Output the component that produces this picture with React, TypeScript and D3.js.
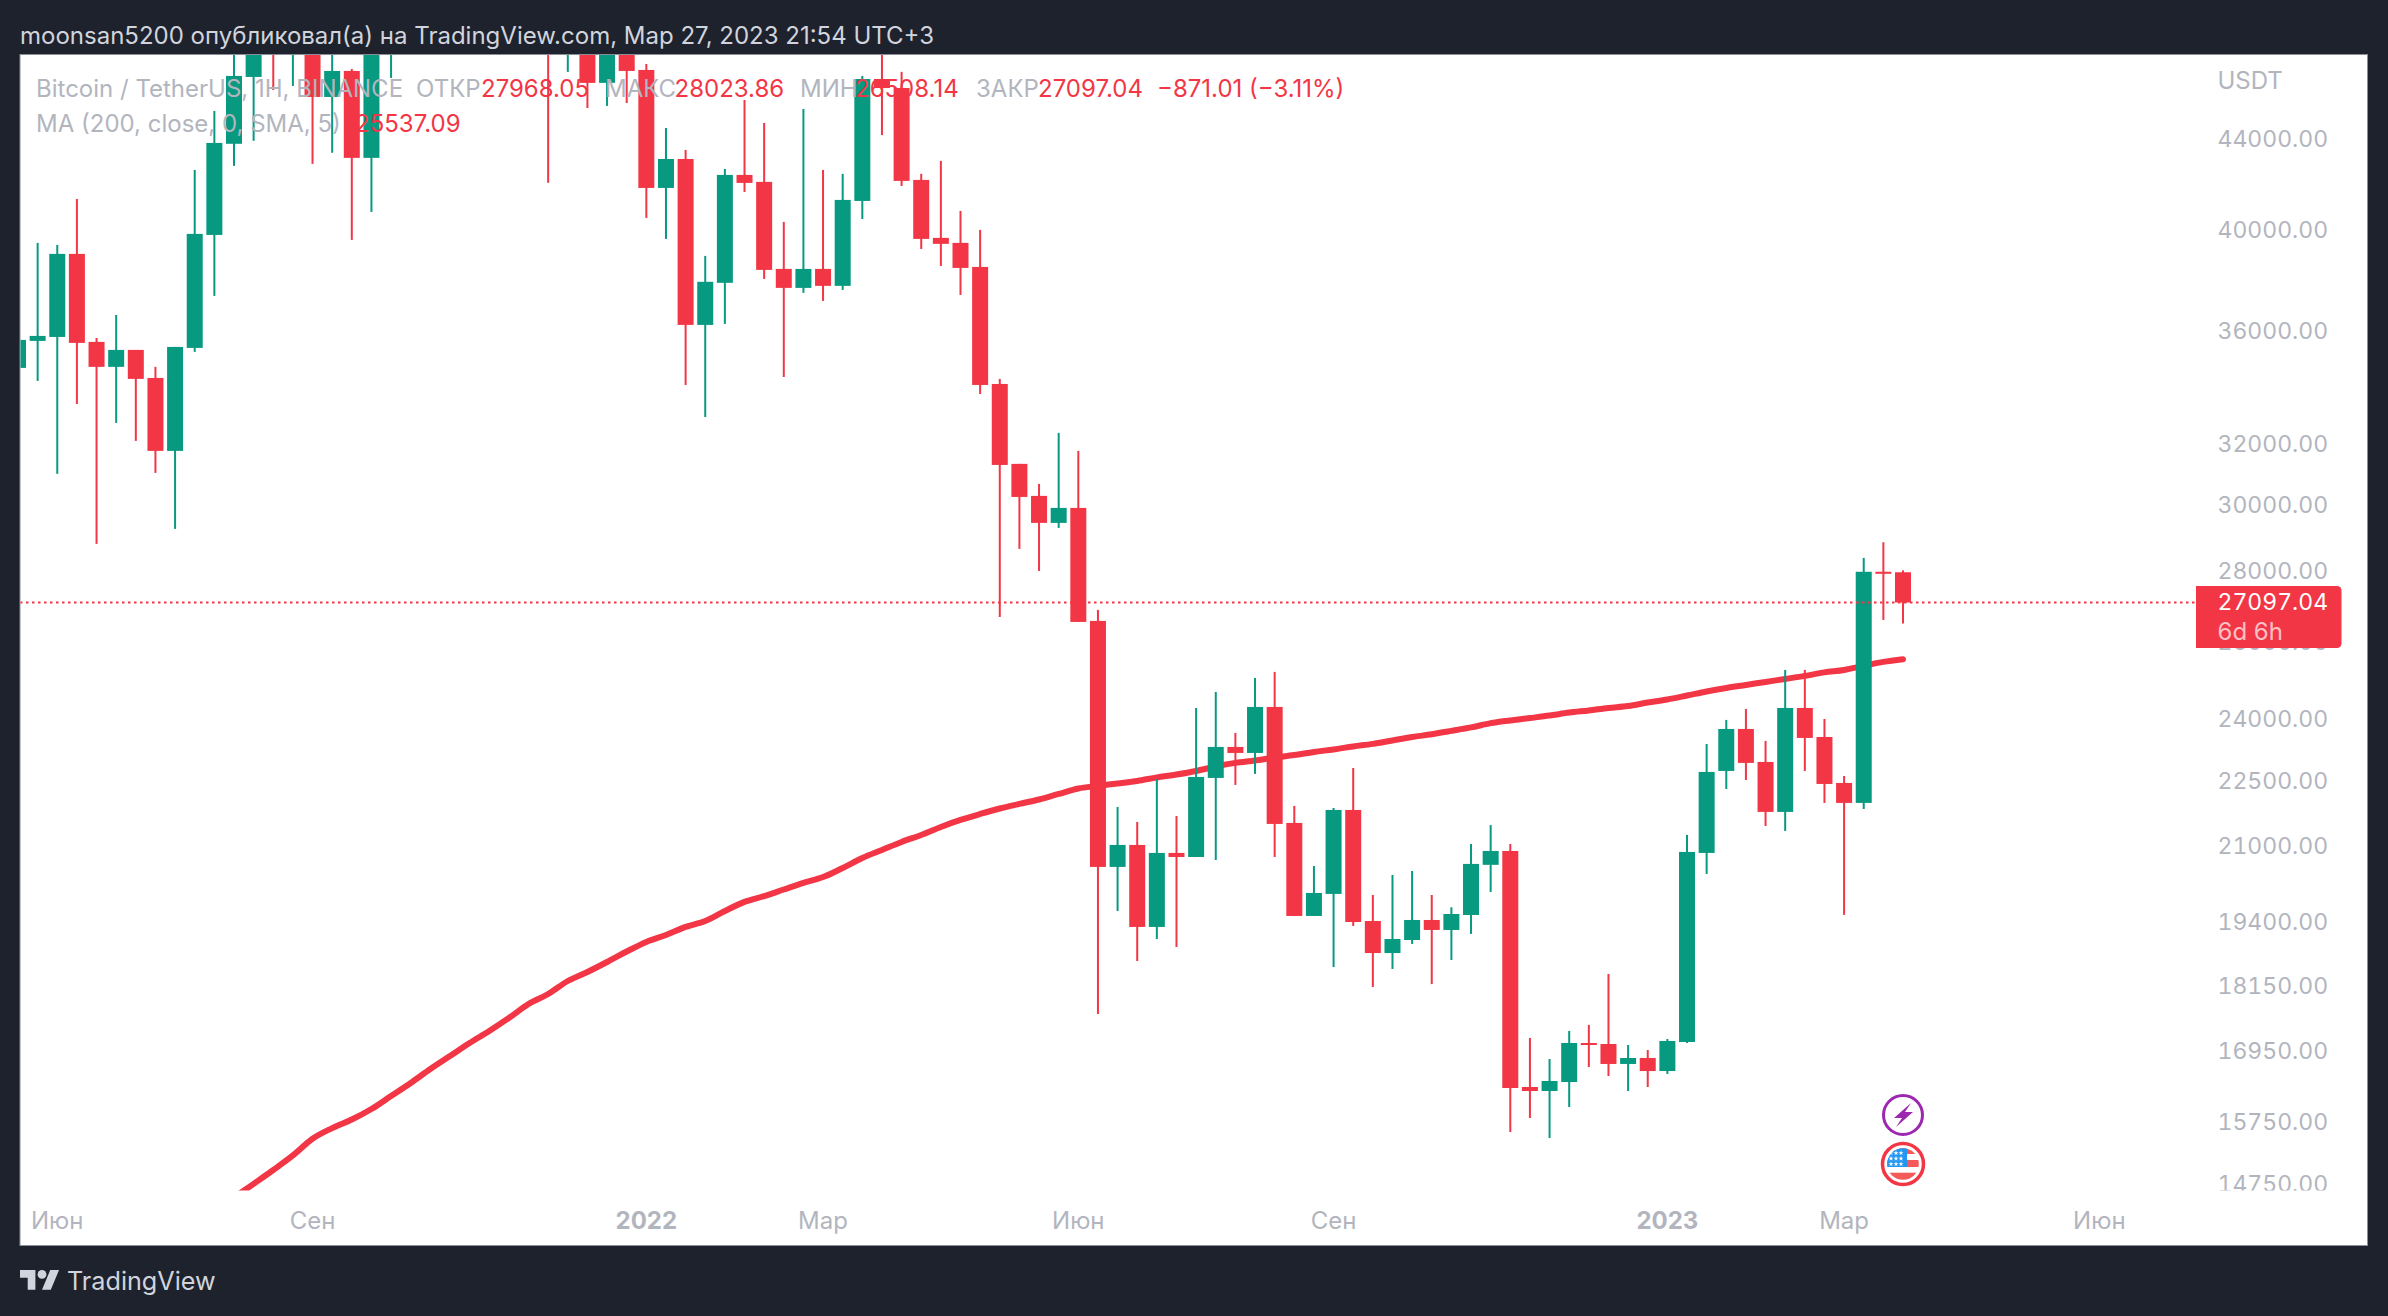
import React, { useEffect, useRef } from 'react'
import * as d3 from 'd3'

const width = 2388
const height = 1316

const firstWeek = new Date(Date.UTC(2021, 4, 24))
const lastWeek = new Date(Date.UTC(2023, 2, 27))

// weekly candles, week of 2021-05-24 to week of 2023-03-27
const opens = [34632, 35624, 35772, 39018, 35587, 34670, 35290, 34270, 31753, 35364, 39800, 43780, 46950, 49300, 48900, 51700, 45978, 47246, 43140, 48150, 54900, 60800, 61300, 61500, 63300, 65500, 58600, 57300, 49400, 50100, 46660, 50800, 47295, 41805, 43090, 36225, 37855, 42378, 42070, 38410, 37655, 38410, 37735, 41240, 46850, 46410, 42157, 39677, 39470, 38490, 34055, 31325, 30293, 29450, 29915, 26580, 20550, 21028, 19300, 20853, 20765, 22555, 23298, 23152, 24293, 21518, 19523, 19978, 21812, 19420, 18780, 19038, 19441, 19239, 19543, 20595, 20896, 16325, 16257, 16410, 17094, 17076, 16723, 16828, 16600, 17112, 20853, 22720, 23740, 22935, 21767, 24267, 23542, 22436, 21973, 27982, 27968.05]
const highs = [39500, 39470, 39387, 41325, 35735, 36605, 35290, 34670, 35400, 42600, 45310, 48150, 49800, 50500, 52900, 52950, 48800, 47345, 49200, 56000, 62900, 67000, 63700, 64300, 69000, 66300, 59500, 59000, 51000, 50700, 51800, 52100, 47590, 44510, 43500, 38935, 42645, 45834, 44745, 40345, 45405, 42600, 42425, 47000, 48500, 47200, 42425, 43003, 40813, 40009, 34236, 31325, 30675, 32356, 31753, 26888, 21880, 21540, 22530, 21675, 24267, 24678, 23642, 25040, 25200, 21903, 20570, 21857, 22790, 19956, 20378, 20463, 19956, 19700, 21050, 21470, 21050, 17184, 16810, 17310, 17420, 18373, 17058, 16969, 17166, 21250, 23370, 23965, 24242, 23445, 25252, 25252, 23990, 22600, 28390, 28860, 28023.86]
const lows = [31000, 34165, 31000, 33350, 28810, 32697, 32087, 31030, 29265, 35217, 37340, 42780, 43916, 46316, 46510, 42870, 43370, 39593, 40770, 46900, 53900, 59500, 58000, 59400, 62300, 55600, 53300, 42030, 47200, 45450, 45550, 45690, 40515, 39635, 34020, 32900, 36263, 41630, 38010, 34305, 37460, 37146, 37576, 40470, 44180, 41890, 39220, 38530, 37380, 33700, 26690, 28660, 28006, 29295, 26552, 17620, 19625, 18625, 19058, 18900, 20765, 20700, 22390, 22650, 20765, 19523, 19523, 18508, 19320, 18125, 18470, 18960, 18180, 18644, 19160, 20020, 15574, 15804, 15476, 15986, 16670, 16514, 16257, 16325, 16549, 17094, 20400, 22296, 22507, 21450, 21338, 22720, 21973, 19545, 21835, 26608, 26508.14]
const closes = [35661, 35810, 39018, 35550, 34670, 35290, 34236, 31753, 35400, 39843, 43820, 47000, 49300, 48900, 51700, 45978, 47246, 43140, 48150, 54900, 60800, 61300, 61500, 63300, 65500, 58600, 57300, 49400, 50100, 46660, 50800, 47246, 41805, 43090, 36225, 37895, 42378, 42025, 38370, 37655, 38410, 37735, 41284, 46850, 46410, 42113, 39635, 39430, 38450, 34020, 31290, 30260, 29450, 29915, 26552, 20550, 21028, 19300, 20853, 20765, 22578, 23298, 23152, 24293, 21495, 19523, 19998, 21812, 19400, 18780, 19058, 19441, 19239, 19563, 20615, 20896, 16308, 16257, 16428, 17094, 17058, 16723, 16828, 16600, 17130, 20875, 22697, 23740, 22912, 21767, 24267, 23518, 22413, 21973, 27982, 27968.05, 27097.04]

// MA(200) from the 11th week on, the earlier part is below the pane
const maStart = 10
const maValues = [14324, 14543, 14752, 14967, 15197, 15465, 15638, 15779, 15953, 16172, 16394, 16635, 16863, 17094, 17310, 17547, 17805, 17993, 18239, 18412, 18605, 18810, 19000, 19138, 19300, 19421, 19625, 19812, 19932, 20070, 20210, 20334, 20528, 20743, 20918, 21094, 21249, 21428, 21585, 21720, 21845, 21950, 22052, 22180, 22308, 22367, 22425, 22484, 22565, 22635, 22720, 22827, 22912, 22970, 23040, 23100, 23177, 23237, 23310, 23372, 23457, 23540, 23610, 23692, 23778, 23885, 23953, 24013, 24075, 24150, 24205, 24267, 24317, 24405, 24484, 24585, 24690, 24780, 24858, 24937, 25015, 25095, 25187, 25252, 25360, 25465, 25537.09]

const priceTicks = [44000, 40000, 36000, 32000, 30000, 28000, 26000, 24000, 22500, 21000, 19400, 18150, 16950, 15750, 14750]
const lastPrice = 27097.04

const timeTickDates = [[2021, 5, 7], [2021, 8, 6], [2022, 0, 3], [2022, 2, 7], [2022, 5, 6], [2022, 8, 5], [2023, 0, 2], [2023, 2, 6], [2023, 5, 5]]
const timeTickLabels = ['Июн', 'Сен', '2022', 'Мар', 'Июн', 'Сен', '2023', 'Мар', 'Июн']

const legendRowOne = [
    { text: 'Bitcoin / TetherUS, 1Н, BINANCE', x: 36, muted: true },
    { text: 'ОТКР', x: 416, muted: true },
    { text: '27968.05', x: 481, muted: false },
    { text: 'МАКС', x: 605, muted: true },
    { text: '28023.86', x: 674.5, muted: false },
    { text: 'МИН', x: 800, muted: true },
    { text: '26508.14', x: 855, muted: false },
    { text: 'ЗАКР', x: 976, muted: true },
    { text: '27097.04', x: 1038, muted: false },
    { text: '−871.01 (−3.11%)', x: 1157, muted: false },
]

const dark = '#1e222d'
const red = '#f23645'
const green = '#089981'
const muted = '#b2b5be'
const light = '#d1d4dc'
const font = 'Inter, Roboto, sans-serif'

const App: React.FC = () => {
    const chartRef = useRef<SVGSVGElement | null>(null)

    useEffect(() => {
        if (!chartRef.current) return
        const svg = d3.select(chartRef.current)
        svg.selectAll('*').remove()

        const pane = { left: 20, top: 54.5, right: 2367.5, bottom: 1245.5, plotBottom: 1190 }
        const weeks = d3.utcMonday.range(firstWeek, d3.utcDay.offset(lastWeek, 1))
        const candles = weeks.map((date, i) => ({
            date, open: opens[i], high: highs[i], low: lows[i], close: closes[i],
        }))

        const x = d3.scaleUtc().domain([firstWeek, lastWeek]).range([18, 1903])
        const y = d3.scaleLog().domain([44000, 14750]).range([139, 1184])

        svg.append('rect').attr('width', width).attr('height', height).attr('fill', dark)
        svg.append('rect')
            .attr('x', pane.left).attr('y', pane.top)
            .attr('width', pane.right - pane.left).attr('height', pane.bottom - pane.top)
            .attr('fill', '#ffffff')
            .attr('stroke', '#8b8e98').attr('stroke-width', 1)

        const defs = svg.append('defs')
        defs.append('clipPath').attr('id', 'plot-clip').append('rect')
            .attr('x', pane.left + 0.5).attr('y', pane.top + 0.5)
            .attr('width', pane.right - pane.left - 1).attr('height', pane.plotBottom - pane.top)
        defs.append('clipPath').attr('id', 'flag-clip').append('circle').attr('r', 15.8)

        svg.append('text')
            .attr('x', 20).attr('y', 44)
            .attr('fill', light)
            .style('font-family', font).style('font-size', '24px')
            .text('moonsan5200 опубликовал(а) на TradingView.com, Мар 27, 2023 21:54 UTC+3')

        const plot = svg.append('g').attr('clip-path', 'url(#plot-clip)')

        // MA goes under the candles
        const maLine = d3.line<number>()
            .x((_, i) => x(weeks[i + maStart]))
            .y(d => y(d))
            .curve(d3.curveMonotoneX)
        plot.append('path')
            .attr('d', maLine(maValues))
            .attr('fill', 'none')
            .attr('stroke', red)
            .attr('stroke-width', 6)
            .attr('stroke-linecap', 'round')
            .attr('stroke-linejoin', 'round')

        const candleGroups = plot.selectAll('.candle')
            .data(candles)
            .enter()
            .append('g')
            .attr('class', 'candle')
            .attr('fill', d => d.close >= d.open ? green : red)

        candleGroups.append('rect')
            .attr('x', d => x(d.date) - 1)
            .attr('y', d => y(d.high))
            .attr('width', 2)
            .attr('height', d => y(d.low) - y(d.high))

        candleGroups.append('rect')
            .attr('x', d => x(d.date) - 8)
            .attr('y', d => y(Math.max(d.open, d.close)))
            .attr('width', 16)
            .attr('height', d => Math.max(2, Math.abs(y(d.open) - y(d.close))))

        // last price line
        plot.append('line')
            .attr('x1', pane.left).attr('x2', 2196)
            .attr('y1', y(lastPrice)).attr('y2', y(lastPrice))
            .attr('stroke', red)
            .attr('stroke-width', 2)
            .attr('stroke-dasharray', '2.5 3.5')

        // price axis
        plot.selectAll('.price-tick')
            .data(priceTicks)
            .enter()
            .append('text')
            .attr('class', 'price-tick')
            .attr('x', 2217.5)
            .attr('y', d => y(d))
            .attr('dy', '0.36em')
            .attr('fill', muted)
            .style('font-family', font).style('font-size', '23px')
            .style('font-variant-numeric', 'tabular-nums')
            .text(d => d.toFixed(2))

        svg.append('text')
            .attr('x', 2217.5).attr('y', 89)
            .attr('fill', muted)
            .style('font-family', font).style('font-size', '24px')
            .text('USDT')

        const boxPath = d3.path()
        boxPath.moveTo(2196, 586)
        boxPath.lineTo(2337, 586)
        boxPath.arcTo(2341.5, 586, 2341.5, 590.5, 4.5)
        boxPath.lineTo(2341.5, 643.5)
        boxPath.arcTo(2341.5, 648, 2337, 648, 4.5)
        boxPath.lineTo(2196, 648)
        boxPath.closePath()
        svg.append('path').attr('d', boxPath.toString()).attr('fill', red)
        svg.append('text')
            .attr('x', 2217.5).attr('y', 602).attr('dy', '0.36em')
            .attr('fill', '#ffffff')
            .style('font-family', font).style('font-size', '23px')
            .style('font-variant-numeric', 'tabular-nums')
            .text(lastPrice.toFixed(2))
        svg.append('text')
            .attr('x', 2217.5).attr('y', 631).attr('dy', '0.36em')
            .attr('fill', '#ffffff').attr('fill-opacity', 0.7)
            .style('font-family', font).style('font-size', '24px')
            .text('6d 6h')

        // time axis
        svg.selectAll('.time-tick')
            .data(timeTickLabels)
            .enter()
            .append('text')
            .attr('class', 'time-tick')
            .attr('x', (_, i) => {
                const [yr, mo, day] = timeTickDates[i]
                return x(new Date(Date.UTC(yr, mo, day)))
            })
            .attr('y', 1220)
            .attr('dy', '0.36em')
            .attr('text-anchor', 'middle')
            .attr('fill', muted)
            .style('font-family', font).style('font-size', '24px')
            .style('font-weight', d => d.startsWith('20') ? 700 : 400)
            .text(d => d)

        // legend, on top of the candles
        svg.selectAll('.legend-one')
            .data(legendRowOne)
            .enter()
            .append('text')
            .attr('class', 'legend-one')
            .attr('x', d => d.x).attr('y', 97)
            .attr('fill', d => d.muted ? muted : red)
            .style('font-family', font).style('font-size', '24px')
            .text(d => d.text)
        svg.append('text')
            .attr('x', 36).attr('y', 132)
            .attr('fill', muted)
            .style('font-family', font).style('font-size', '24px')
            .text('MA (200, close, 0, SMA, 5)')
        svg.append('text')
            .attr('x', 355).attr('y', 132)
            .attr('fill', red)
            .style('font-family', font).style('font-size', '24px')
            .text(maValues[maValues.length - 1].toFixed(2))

        // event badges
        const bolt = svg.append('g').attr('transform', 'translate(1903,1115)')
        bolt.append('circle').attr('r', 19.5).attr('fill', '#ffffff').attr('stroke', '#9c27b0').attr('stroke-width', 3)
        bolt.append('path')
            .attr('d', 'M8 -12 L-9 3 L-1 3 L-7 12 L10 -3 L2 -3 Z')
            .attr('fill', '#9c27b0')

        const flag = svg.append('g').attr('transform', 'translate(1903,1164)')
        flag.append('circle').attr('r', 20.5).attr('fill', '#ffffff').attr('stroke', red).attr('stroke-width', 3.5)
        const flagInner = flag.append('g').attr('clip-path', 'url(#flag-clip)')
        flagInner.append('rect').attr('x', -16).attr('y', -16).attr('width', 32).attr('height', 6).attr('fill', '#f55a5a')
        flagInner.append('rect').attr('x', -16).attr('y', -4).attr('width', 32).attr('height', 7).attr('fill', '#f55a5a')
        flagInner.append('rect').attr('x', -16).attr('y', 8.7).attr('width', 32).attr('height', 8).attr('fill', '#f55a5a')
        flagInner.append('rect').attr('x', -16).attr('y', -16).attr('width', 20).attr('height', 19).attr('fill', '#2196f3')
        const starRows = [-11, -5.5, 0]
        const starCols = [-12, -7, -2]
        starRows.forEach(sy => starCols.forEach(sx => {
            flagInner.append('path')
                .attr('d', d3.symbol().type(d3.symbolStar).size(8)() as string)
                .attr('transform', `translate(${sx},${sy})`)
                .attr('fill', '#ffffff')
        }))

        // footer logo
        const logo = svg.append('g').attr('transform', 'translate(20,1265.6) scale(1.1)').attr('fill', light)
        logo.append('path').attr('d', 'M14 22H7V11H0V4h14v18zM28 22h-8l7.5-18h8L28 22z')
        logo.append('circle').attr('cx', 20).attr('cy', 8).attr('r', 4)
        svg.append('text')
            .attr('x', 67).attr('y', 1290)
            .attr('fill', light)
            .style('font-family', font).style('font-size', '25.2px')
            .text('TradingView')
    }, [])

    return <svg ref={chartRef} width={width} height={height} style={{ position: 'absolute', left: 0, top: 0, display: 'block' }}></svg>
}

export default App
